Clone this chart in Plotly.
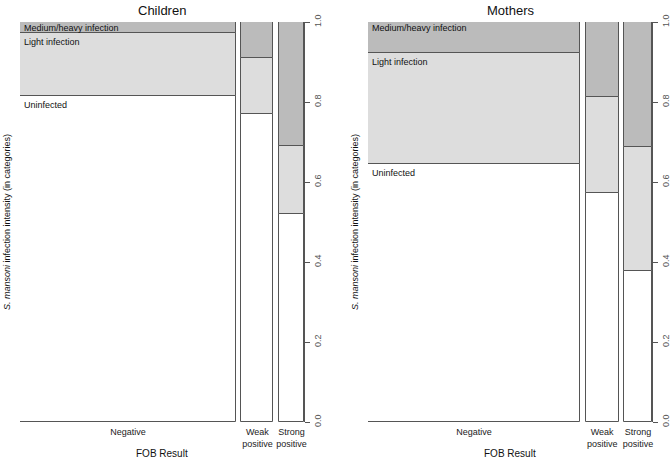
import numpy as np
import plotly.graph_objects as go

# FOB result groups (x axis) and infection categories (stacked from bottom)
groups = ["Negative", "Weak<br>positive", "Strong<br>positive"]
categories = ["Uninfected", "Light infection", "Medium/heavy infection"]
cat_colors = ["#ffffff", "#dddddd", "#bbbbbb"]

# share of each FOB group (bar widths)
children_group_share = [0.791, 0.117, 0.092]
mothers_group_share = [0.777, 0.121, 0.102]

# conditional proportions of each infection category within a group
children_uninfected = [0.815, 0.770, 0.520]
children_light = [0.157, 0.140, 0.170]
children_medium = [0.028, 0.090, 0.310]

mothers_uninfected = [0.645, 0.573, 0.378]
mothers_light = [0.278, 0.240, 0.310]
mothers_medium = [0.077, 0.187, 0.312]

W, H = 672, 460
GAP = 0.02
LINE = "#555555"
FONT = "Liberation Sans, Arial, sans-serif"

panels = [
    ("Children", children_group_share, [children_uninfected, children_light, children_medium], 20, 304),
    ("Mothers", mothers_group_share, [mothers_uninfected, mothers_light, mothers_medium], 368, 652),
]
top_px, bottom_px = 22, 422

fig = go.Figure()
annotations = []

for i, (title, share, props, x0px, x1px) in enumerate(panels, start=1):
    xa = "x" if i == 1 else f"x{i}"
    ya = "y" if i == 1 else f"y{i}"
    share = np.array(share)
    lefts = np.concatenate([[0], np.cumsum(share)[:-1]]) + GAP * np.arange(len(share))
    centers = lefts + share / 2
    base = np.zeros(len(share))
    for k, cat in enumerate(categories):
        vals = np.array(props[k])
        fig.add_trace(go.Bar(
            x=centers, y=vals, base=base, width=share,
            marker=dict(color=cat_colors[k], line=dict(color=LINE, width=1)),
            xaxis=xa, yaxis=ya, showlegend=False, name=cat, hoverinfo="skip",
        ))
        # label at the top-left of each segment in the Negative bar
        annotations.append(dict(
            x=lefts[0], y=base[0] + vals[0], xref=xa, yref=ya,
            text=cat, showarrow=False, xanchor="left", yanchor="top",
            xshift=2, yshift=1 if k == 2 else -2,
            font=dict(size=9, color="#111", family=FONT),
        ))
        base = base + vals

    dom_x = [x0px / W, x1px / W]
    dom_y = [(H - bottom_px) / H, (H - top_px) / H]
    fig.update_layout({
        f"xaxis{'' if i == 1 else i}": dict(
            domain=dom_x, range=[0, 1 + GAP * (len(share) - 1)], anchor=ya,
            tickvals=list(centers), ticktext=groups, ticks="", showline=False,
            showgrid=False, zeroline=False, automargin=False, ticklabelstandoff=3,
            tickfont=dict(size=9, color="#222", family=FONT),
        ),
        f"yaxis{'' if i == 1 else i}": dict(
            domain=dom_y, range=[0, 1], anchor=xa, side="right",
            tickvals=[0, 0.2, 0.4, 0.6, 0.8, 1.0],
            ticktext=["0.0", "0.2", "0.4", "0.6", "0.8", "1.0"],
            ticks="outside", ticklen=5, tickcolor=LINE, showline=True, linecolor=LINE,
            tickangle=-90, showgrid=False, zeroline=False, automargin=False,
            tickfont=dict(size=9, color="#555", family=FONT),
        ),
    })

    mid = (x0px + x1px) / 2 / W
    annotations.append(dict(
        x=mid, y=1 - 1 / H, xref="paper", yref="paper", text=title,
        showarrow=False, xanchor="center", yanchor="top",
        font=dict(size=13, color="#111", family=FONT),
    ))
    annotations.append(dict(
        x=mid, y=1 - 446 / H, xref="paper", yref="paper", text="FOB Result",
        showarrow=False, xanchor="center", yanchor="top",
        font=dict(size=10, color="#111", family=FONT),
    ))
    annotations.append(dict(
        x=(x0px - 13) / W, y=(H - (top_px + bottom_px) / 2) / H, xref="paper", yref="paper",
        text="<i>S. mansoni</i> infection intensity (in categories)",
        showarrow=False, textangle=-90, xanchor="center", yanchor="middle",
        font=dict(size=9, color="#111", family=FONT),
    ))

fig.update_layout(
    width=W, height=H, barmode="overlay", bargap=0,
    margin=dict(l=0, r=0, t=0, b=0),
    paper_bgcolor="white", plot_bgcolor="white",
    annotations=annotations,
)

# drop the browser's default page margin so the figure sits at the window origin
fig.write_html("out.html", config={"displayModeBar": False},
               post_script="document.body.style.margin='0';")
